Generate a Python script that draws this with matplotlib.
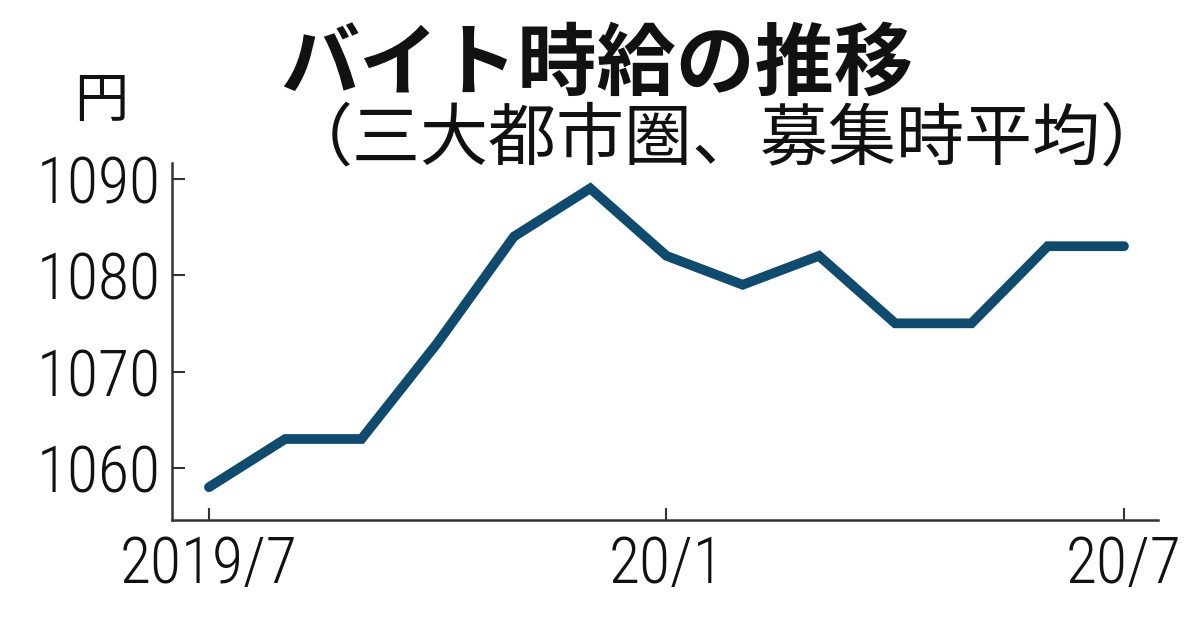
import matplotlib
matplotlib.use("Agg")
import matplotlib.pyplot as plt

months = ["2019/7", "8", "9", "10", "11", "12", "20/1", "2", "3", "4", "5", "6", "20/7"]
wages = [1058, 1063, 1063, 1073, 1084, 1089, 1082, 1079, 1082, 1075, 1075, 1083, 1083]
xtick_idx = [0, 6, 12]
xtick_labels = ["2019/7", "20/1", "20/7"]
yticks = [1060, 1070, 1080, 1090]

title = "バイト時給の推移"
subtitle = "（三大都市圏、募集時平均）"
unit = "円"

cjk = ["Noto Sans CJK JP", "DejaVu Sans"]
num_font = ["Roboto Condensed", "DejaVu Sans"]

fig = plt.figure(figsize=(12, 6.28), dpi=100)
ax = fig.add_axes([0.1433, 0.172, 0.8217, 0.568])

x = list(range(len(wages)))
ax.plot(x, wages, color="#0f4b6e", linewidth=7, solid_joinstyle="miter", solid_capstyle="round")

ax.set_xlim(-0.485, 12.446)
ax.set_ylim(1054.6, 1091.6)
ax.set_yticks(yticks)
ax.set_xticks(xtick_idx)
ax.set_xticklabels(xtick_labels)

for s in ["top", "right"]:
    ax.spines[s].set_visible(False)
for s in ["left", "bottom"]:
    ax.spines[s].set_color("#333333")
    ax.spines[s].set_linewidth(1.8)

ax.tick_params(axis="both", direction="in", length=9, width=1.5, color="#333333",
               labelsize=46, labelcolor="#111111")
ax.tick_params(axis="y", pad=8)
ax.tick_params(axis="x", pad=10)
for lab in ax.get_xticklabels() + ax.get_yticklabels():
    lab.set_family(num_font)
    lab.set_fontweight(300)

fig.text(0.497, 0.896, title, fontsize=57, fontweight="bold", family=cjk,
         ha="center", va="center", color="#111111")
fig.text(0.606, 0.777, subtitle, fontsize=49, family=cjk,
         ha="center", va="center", color="#111111")
fig.text(0.084, 0.839, unit, fontsize=39, family=cjk,
         ha="center", va="center", color="#111111")

fig.savefig("out.png", dpi=100, facecolor="white")
